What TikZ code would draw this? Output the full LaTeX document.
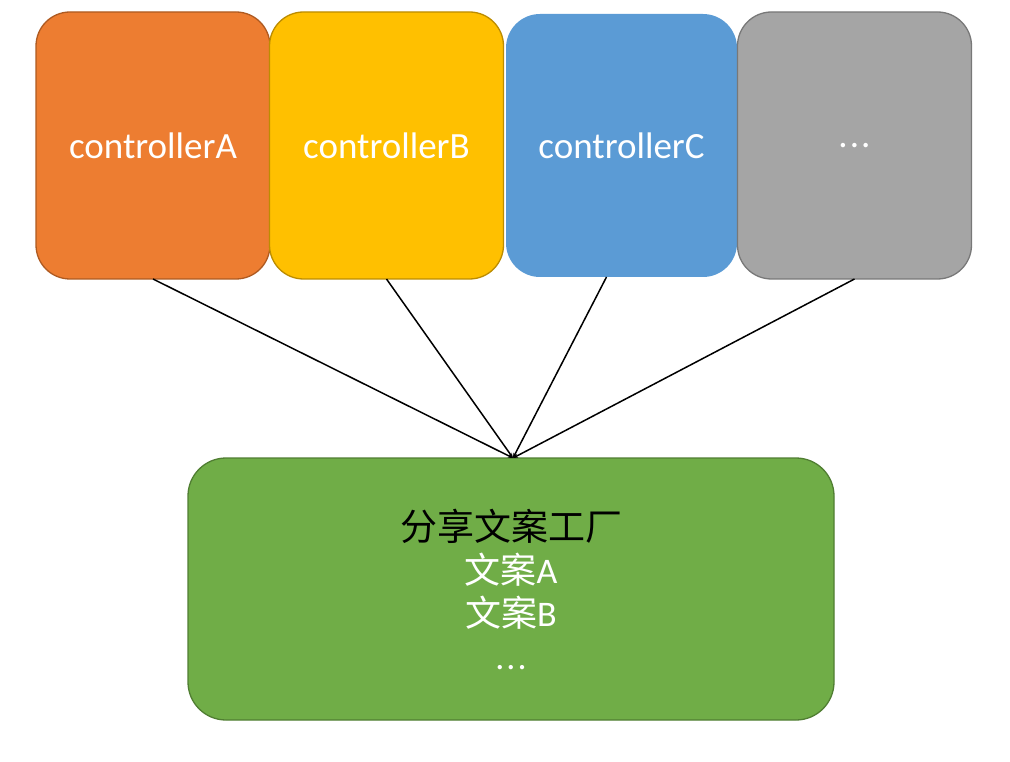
\documentclass[tikz,border=0pt]{standalone}
\usepackage{fontspec}
\setmainfont{Carlito}
\newfontfamily\cjk{Noto Sans CJK SC}
\usetikzlibrary{arrows.meta, positioning}

\definecolor{ctrlA}{HTML}{ED7D31}
\definecolor{ctrlAedge}{HTML}{AE5A21}
\definecolor{ctrlB}{HTML}{FFC000}
\definecolor{ctrlBedge}{HTML}{BC8C00}
\definecolor{ctrlC}{HTML}{5B9BD5}
\definecolor{ctrlD}{HTML}{A5A5A5}
\definecolor{ctrlDedge}{HTML}{787878}
\definecolor{factory}{HTML}{70AD47}
\definecolor{factoryedge}{HTML}{507E32}

\newcommand{\moredots}{.\kern2pt.\kern2pt.}

\begin{document}
\begin{tikzpicture}[
  x=1pt, y=-1pt,
  font=\fontsize{37}{44}\selectfont,
  ctrl/.style={rounded corners=34pt, inner sep=0pt, outer sep=0pt,
               minimum width=234pt, minimum height=267pt,
               line width=1.3pt, text=white},
  fac/.style={rounded corners=38pt, inner sep=0pt, outer sep=0pt,
              minimum width=646pt, minimum height=262pt,
              line width=1.3pt, align=center,
              font=\fontsize{36}{43}\selectfont},
  wire/.style={line width=1.5pt, -{Stealth[length=5pt, width=4pt]}}]

  \useasboundingbox (0,0) rectangle (1010,762);

  % controllers
  \node[ctrl, fill=ctrlA, draw=ctrlAedge] (ca) at (153,145.5) {controllerA};
  \node[ctrl, fill=ctrlB, draw=ctrlBedge] (cb) at (386.5,145.5) {controllerB};
  \node[ctrl, fill=ctrlC, minimum width=231pt, minimum height=263pt] (cc) at (621.5,145.5) {controllerC};
  \node[ctrl, fill=ctrlD, draw=ctrlDedge] (cd) at (854.5,145.5) {\moredots};

  % factory
  \node[fac, fill=factory, draw=factoryedge] (fa) at (511,589)
    {{\cjk\fontsize{37}{43}\selectfont 分享文案工厂}\\
     \textcolor{white}{{\cjk 文案}A}\\
     \textcolor{white}{{\cjk 文案}B}\\
     \textcolor{white}{\moredots}};

  % links
  \draw[wire] (ca.south) -- ([xshift=2pt]fa.north);
  \draw[wire] (cb.south) -- ([xshift=2pt]fa.north);
  \draw[wire] ([xshift=-15pt]cc.south) -- ([xshift=2pt]fa.north);
  \draw[wire] (cd.south) -- ([xshift=2pt]fa.north);
\end{tikzpicture}
\end{document}
